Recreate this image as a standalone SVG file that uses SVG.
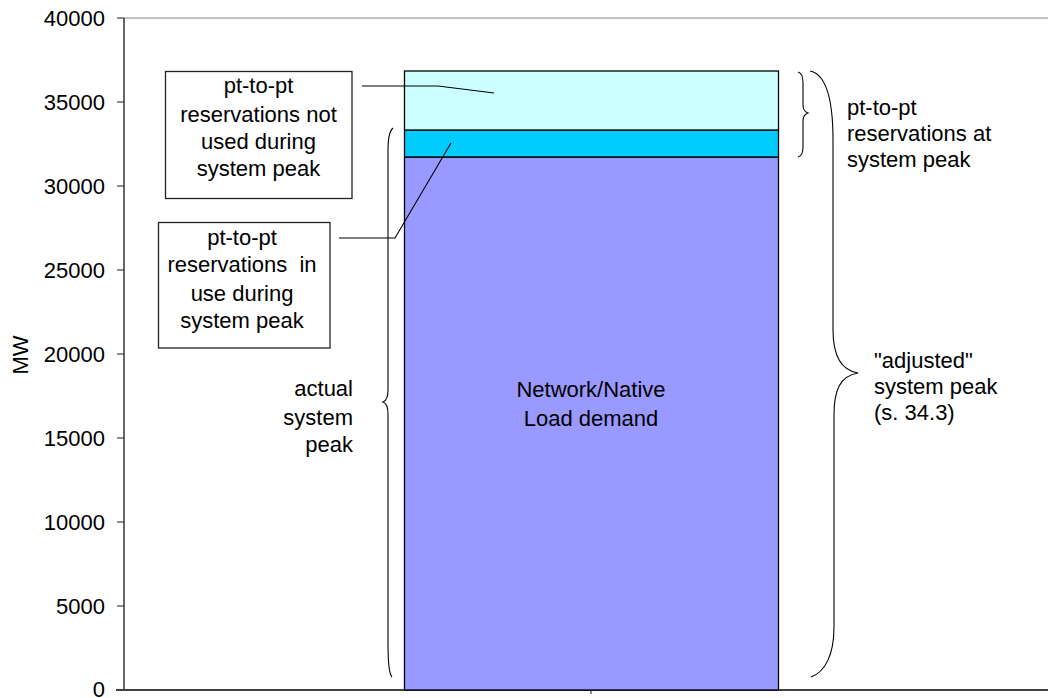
<svg xmlns="http://www.w3.org/2000/svg" width="1048" height="698" viewBox="0 0 1048 698">
<style>
text{font-family:"Liberation Sans",Arial,sans-serif;fill:#000}
.tick{font-size:22px;text-anchor:end}
.lbl{font-size:22px}
.mid{text-anchor:middle}
.end{text-anchor:end}
.box{fill:#fff;stroke:#222;stroke-width:1.3}
.seg{stroke:#000;stroke-width:1.3}
.ln{fill:none;stroke:#000;stroke-width:1.1}
.ax{stroke:#404040;fill:none}
</style>
<rect width="1048" height="698" fill="#fff"/>
<g id="axes">
<line x1="124" y1="18" x2="1048" y2="18" stroke="#808080" stroke-width="1"/>
<line class="ax" x1="124" y1="18" x2="124" y2="690" stroke-width="1.6"/>
<line class="ax" x1="116" y1="690" x2="1048" y2="690" stroke-width="2.2"/>
<g class="ax" stroke-width="1.2">
<line x1="117" y1="18" x2="124" y2="18"/>
<line x1="117" y1="102" x2="124" y2="102"/>
<line x1="117" y1="186" x2="124" y2="186"/>
<line x1="117" y1="270" x2="124" y2="270"/>
<line x1="117" y1="354" x2="124" y2="354"/>
<line x1="117" y1="438" x2="124" y2="438"/>
<line x1="117" y1="522" x2="124" y2="522"/>
<line x1="117" y1="606" x2="124" y2="606"/>
<line x1="591" y1="690" x2="591" y2="694"/>
</g>
<text class="tick" x="105" y="26">40000</text>
<text class="tick" x="105" y="110">35000</text>
<text class="tick" x="105" y="194">30000</text>
<text class="tick" x="105" y="278">25000</text>
<text class="tick" x="105" y="362">20000</text>
<text class="tick" x="105" y="446">15000</text>
<text class="tick" x="105" y="530">10000</text>
<text class="tick" x="105" y="614">5000</text>
<text class="tick" x="105" y="697">0</text>
<text class="lbl mid" transform="translate(28,355) rotate(-90)">MW</text>
</g>
<g id="bar">
<rect class="seg" x="404.5" y="157" width="374" height="533" fill="#9999FF"/>
<rect class="seg" x="404.5" y="130" width="374" height="27" fill="#00CCFF"/>
<rect class="seg" x="404.5" y="71" width="374" height="59" fill="#CCFFFF"/>
<text class="lbl mid" x="591" y="397">Network/Native</text>
<text class="lbl mid" x="591" y="426">Load demand</text>
</g>
<g id="connectors">
<polyline class="ln" points="362,86 438,86 494,93"/>
<polyline class="ln" points="339,238 395,238 451,143"/>
</g>
<g id="box-not-used">
<rect class="box" x="165.5" y="71.5" width="186.5" height="127"/>
<text class="lbl mid" x="258.5" y="93">pt-to-pt</text>
<text class="lbl mid" x="258.5" y="122">reservations not</text>
<text class="lbl mid" x="258.5" y="148.5">used during</text>
<text class="lbl mid" x="258.5" y="175.5">system peak</text>
</g>
<g id="box-in-use">
<rect class="box" x="158.5" y="222.5" width="171.5" height="125.5"/>
<text class="lbl mid" x="242" y="245">pt-to-pt</text>
<text class="lbl mid" x="242" y="272" xml:space="preserve">reservations  in</text>
<text class="lbl mid" x="242" y="300.5">use during</text>
<text class="lbl mid" x="242" y="327.5">system peak</text>
</g>
<g id="brace-actual">
<path class="ln" d="M393,128 C389.5,131 388,138 388,150 L388,390 C388,397 386,401 383,402 C386,403 388,407 388,414 L388,643 C388,665 389,674 392,677"/>
<text class="lbl end" x="353" y="396">actual</text>
<text class="lbl end" x="353" y="425">system</text>
<text class="lbl end" x="353" y="452">peak</text>
</g>
<g id="brace-ptp">
<path class="ln" d="M798,72 C802,73 803,77 803,83 L803,105 C803,110 805,112 808,113 C805,114 803,116 803,121 L803,147 C803,152 802,156 798,157"/>
<text class="lbl" x="847" y="115">pt-to-pt</text>
<text class="lbl" x="847" y="141">reservations at</text>
<text class="lbl" x="847" y="167">system peak</text>
</g>
<g id="brace-adjusted">
<path class="ln" d="M810,71 C825,74 833,95 833,140 L833,330 C833,355 840,370 858,373 C840,376 834,390 834,415 L834,627 C834,655 825,672 811,677"/>
<text class="lbl" x="874" y="368">"adjusted"</text>
<text class="lbl" x="874" y="394">system peak</text>
<text class="lbl" x="874" y="420">(s. 34.3)</text>
</g>
</svg>
